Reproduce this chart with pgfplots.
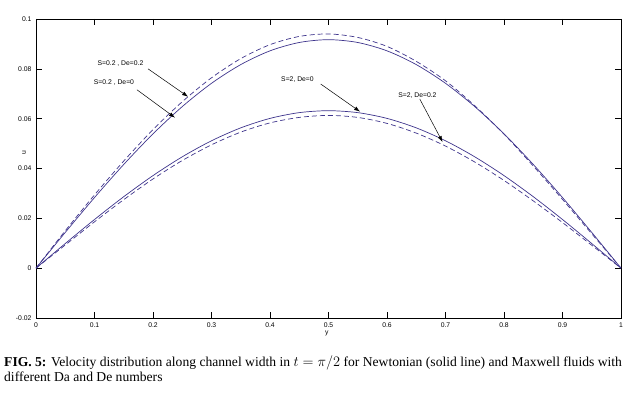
\documentclass[border=0pt]{standalone}
\usepackage{pgfplots}
\pgfplotsset{compat=1.18}
\usepackage{fontspec}
\setmainfont{Liberation Serif}
\newfontfamily\sansf{Liberation Sans}
\usetikzlibrary{arrows.meta}
\definecolor{lc}{RGB}{62,52,140}
\pgfplotstableread{
x us ud ls ld
0    0       0      0       0
0.05 0.01434 0.0150 0.00988 0.0093
0.10 0.02834 0.0294 0.01953 0.0186
0.15 0.04163 0.0430 0.02869 0.0275
0.20 0.05390 0.0556 0.03715 0.0358
0.25 0.06484 0.0668 0.04469 0.0432
0.30 0.07419 0.0764 0.05113 0.0495
0.35 0.08170 0.0841 0.05631 0.0546
0.40 0.08722 0.0897 0.06011 0.0583
0.45 0.09057 0.0930 0.06242 0.0605
0.50 0.0917  0.0940 0.0632  0.0613
0.55 0.09057 0.0926 0.06242 0.0605
0.60 0.08722 0.0890 0.06011 0.0581
0.65 0.08170 0.0830 0.05631 0.0542
0.70 0.07419 0.0752 0.05113 0.0490
0.75 0.06484 0.0652 0.04469 0.0426
0.80 0.05390 0.0538 0.03715 0.0352
0.85 0.04163 0.0410 0.02869 0.0270
0.90 0.02834 0.0276 0.01953 0.0183
0.95 0.01434 0.0138 0.00988 0.0092
1.00 0       0      0       0
}\datatable
\begin{document}
\begin{tikzpicture}
\useasboundingbox (0,0) rectangle (643pt,396pt);
\begin{axis}[
  at={(36pt,78pt)}, anchor=south west,
  scale only axis, width=585pt, height=299pt,
  xmin=0, xmax=1, ymin=-0.02, ymax=0.1,
  xtick={0,0.1,...,1.01}, ytick={-0.02,0,0.02,0.04,0.06,0.08,0.1},
  xticklabels={0,0.1,0.2,0.3,0.4,0.5,0.6,0.7,0.8,0.9,1},
  yticklabels={-0.02,0,0.02,0.04,0.06,0.08,0.1},
  tick align=inside, major tick length=6pt,
  axis line style={black, line width=0.8pt},
  tick style={black, line width=0.6pt},
  ticklabel style={font=\sansf\fontsize{6.8}{7}\selectfont},
  xticklabel style={yshift=-1pt},
  yticklabel style={xshift=-1pt},
  clip=false,
]
\addplot[lc, line width=0.7pt, smooth] table[x=x,y=us] {\datatable};
\addplot[lc, line width=0.7pt, smooth, dash pattern=on 5pt off 3pt] table[x=x,y=ud] {\datatable};
\addplot[lc, line width=0.7pt, smooth] table[x=x,y=ls] {\datatable};
\addplot[lc, line width=0.7pt, smooth, dash pattern=on 5pt off 3pt] table[x=x,y=ld] {\datatable};
\tikzset{lab/.style={font=\sansf\fontsize{6.8}{7}\selectfont, inner sep=0pt},
  arr/.style={-{Latex[length=6pt,width=4pt]}, black, line width=0.5pt}}
\node[lab] at (axis cs:0.1444,0.0820) {S=0.2 , De=0.2};
\node[lab] at (axis cs:0.1333,0.0744) {S=0.2 , De=0};
\node[lab] at (axis cs:0.447,0.0756) {S=2, De=0};
\node[lab] at (axis cs:0.652,0.0692) {S=2, De=0.2};
\draw[arr] (axis cs:0.1915,0.0800) -- (axis cs:0.260,0.0688);
\draw[arr] (axis cs:0.1726,0.0716) -- (axis cs:0.2376,0.0604);
\draw[arr] (axis cs:0.4867,0.0739) -- (axis cs:0.554,0.0628);
\draw[arr] (axis cs:0.656,0.0679) -- (axis cs:0.695,0.0506);
\node[lab] at (axis cs:0.497,-0.02) [yshift=-15pt] {y};
\node[lab, rotate=90] at (axis cs:0,0.0464) [yshift=12pt] {u};
\end{axis}
\node[anchor=base west, align=left, inner sep=0pt, font=\fontsize{13.6}{15.5}\selectfont] at (4pt,14pt)
 {\textbf{FIG. 5:} Velocity distribution along channel width in $t=\pi/2$ for Newtonian (solid line) and Maxwell fluids with\\ different Da and De numbers};
\end{tikzpicture}
\end{document}
